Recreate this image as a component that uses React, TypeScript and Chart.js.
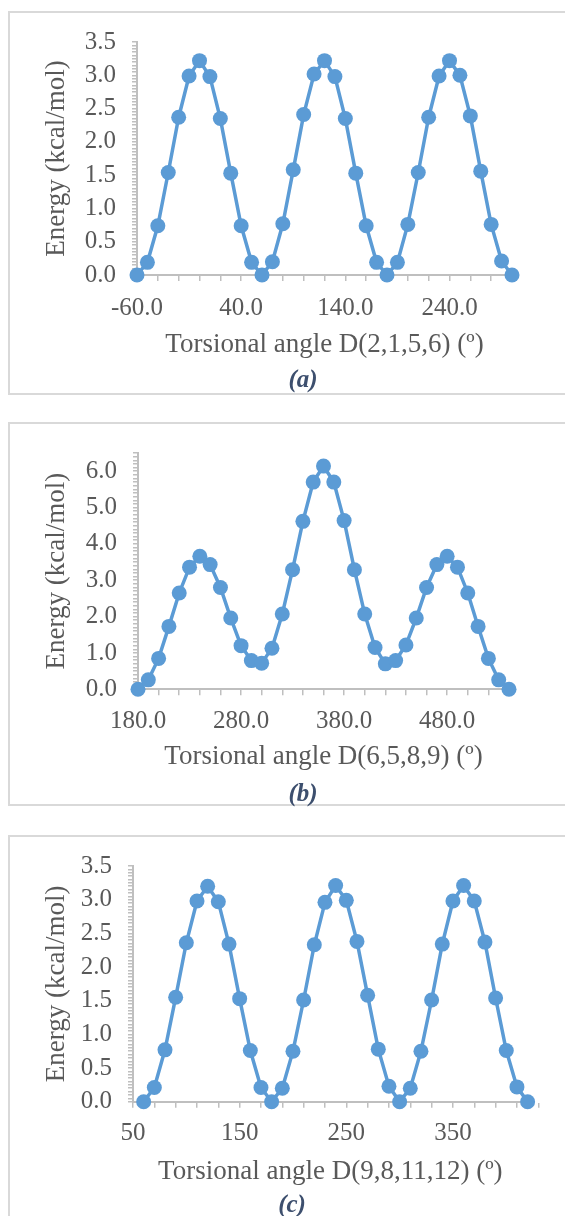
import React, { useEffect, useRef } from "react";
import { Chart, registerables } from "chart.js";

Chart.register(...registerables);

// ---------- data ----------
const anglesA = [-60, -50, -40, -30, -20, -10, 0, 10, 20, 30, 40, 50, 60, 70, 80, 90, 100, 110, 120, 130, 140, 150, 160, 170, 180, 190, 200, 210, 220, 230, 240, 250, 260, 270, 280, 290, 300];
const energyA = [0, 0.19, 0.74, 1.54, 2.37, 2.99, 3.22, 2.98, 2.35, 1.53, 0.74, 0.19, 0, 0.2, 0.77, 1.58, 2.41, 3.02, 3.22, 2.98, 2.35, 1.53, 0.74, 0.19, 0, 0.19, 0.76, 1.54, 2.37, 2.99, 3.22, 3.0, 2.39, 1.56, 0.76, 0.21, 0];

const anglesB = [180, 190, 200, 210, 220, 230, 240, 250, 260, 270, 280, 290, 300, 310, 320, 330, 340, 350, 360, 370, 380, 390, 400, 410, 420, 430, 440, 450, 460, 470, 480, 490, 500, 510, 520, 530, 540];
const energyB = [0, 0.26, 0.85, 1.73, 2.65, 3.36, 3.66, 3.43, 2.8, 1.96, 1.2, 0.79, 0.72, 1.13, 2.07, 3.29, 4.62, 5.7, 6.14, 5.7, 4.64, 3.29, 2.07, 1.15, 0.7, 0.79, 1.22, 1.96, 2.8, 3.43, 3.66, 3.36, 2.65, 1.73, 0.85, 0.26, 0];

const anglesC = [60, 70, 80, 90, 100, 110, 120, 130, 140, 150, 160, 170, 180, 190, 200, 210, 220, 230, 240, 250, 260, 270, 280, 290, 300, 310, 320, 330, 340, 350, 360, 370, 380, 390, 400, 410, 420];
const energyC = [0, 0.21, 0.77, 1.55, 2.36, 2.98, 3.2, 2.97, 2.34, 1.53, 0.76, 0.21, 0, 0.2, 0.75, 1.51, 2.33, 2.96, 3.21, 2.99, 2.38, 1.58, 0.78, 0.23, 0, 0.2, 0.75, 1.51, 2.34, 2.98, 3.21, 2.98, 2.37, 1.54, 0.76, 0.22, 0];

// tick labels
const xLabelsA = [-60, 40, 140, 240];
const xLabelsB = [180, 280, 380, 480];
const xLabelsC = [50, 150, 250, 350];
const yLabelsA = [0, 0.5, 1, 1.5, 2, 2.5, 3, 3.5];
const yLabelsB = [0, 1, 2, 3, 4, 5, 6];
const yLabelsC = [0, 0.5, 1, 1.5, 2, 2.5, 3, 3.5];

const xTitleA = "Torsional angle D(2,1,5,6) (º)";
const xTitleB = "Torsional angle D(6,5,8,9) (º)";
const xTitleC = "Torsional angle D(9,8,11,12) (º)";
const yTitle = "Energy (kcal/mol)";

// ---------- style ----------
const W = 565;
const FONT = "'Liberation Serif', 'Times New Roman', serif";
const LINE = "#5B9BD5";
const AXIS = "#BFBFBF";
const TXT = "#595959";
const CAPTION = "#3D4F6E";
const TICK_SIZE = 25;
const TITLE_SIZE = 27;

function stepTicks(min: number, max: number, step: number) {
  const out: number[] = [];
  const n = Math.round((max - min) / step);
  for (let i = 0; i <= n; i++) out.push(Math.round((min + i * step) * 10000) / 10000);
  return out;
}
function inList(v: number, list: number[]) {
  return list.some((l) => Math.abs(l - v) < 1e-6);
}

type Cfg = {
  top: number;
  height: number;
  boxHeight: number;
  angles: number[];
  energy: number[];
  xMin: number;
  xMax: number;
  xLabels: number[];
  xMinorStep: number;
  xDecimals: number;
  yMin: number;
  yMax: number;
  yLabels: number[];
  yMinorStep: number;
  xTitle: string;
  caption: string;
  area: { left: number; right: number; top: number; bottom: number };
  xLabelPad: number;
  xTitlePad: number;
  capX: number;
  capY: number;
};

function Panel({ cfg }: { cfg: Cfg }) {
  const ref = useRef<HTMLCanvasElement | null>(null);
  useEffect(() => {
    if (!ref.current) return;
    const xTicks = stepTicks(cfg.xMin, cfg.xMax, cfg.xMinorStep);
    const yTicks = stepTicks(cfg.yMin, cfg.yMax, cfg.yMinorStep);
    const chart = new Chart(ref.current, {
      type: "line",
      data: {
        datasets: [
          {
            data: cfg.angles.map((a, i) => ({ x: a, y: cfg.energy[i] })),
            borderColor: LINE,
            backgroundColor: LINE,
            borderWidth: 3.5,
            pointRadius: 7.5,
            pointBackgroundColor: LINE,
            pointBorderColor: LINE,
            pointBorderWidth: 0,
            tension: 0,
            clip: false,
          } as any,
        ],
      },
      options: {
        responsive: false,
        animation: false,
        devicePixelRatio: 1,
        layout: {
          padding: { left: 0, top: cfg.area.top, right: W - cfg.area.right, bottom: 0 },
        },
        plugins: { legend: { display: false }, tooltip: { enabled: false } },
        scales: {
          x: {
            type: "linear",
            min: cfg.xMin,
            max: cfg.xMax,
            afterBuildTicks: (s: any) => {
              s.ticks = xTicks.map((v) => ({ value: v }));
            },
            afterFit: (s: any) => {
              s.height = cfg.height - cfg.area.bottom;
            },
            grid: { drawOnChartArea: false, drawTicks: true, tickLength: 6, color: AXIS, lineWidth: 1.5 },
            border: { display: true, color: AXIS, width: 2 },
            ticks: {
              autoSkip: false,
              maxRotation: 0,
              padding: cfg.xLabelPad,
              color: TXT,
              font: { family: FONT, size: TICK_SIZE },
              callback: (v: any) => (inList(Number(v), cfg.xLabels) ? Number(v).toFixed(cfg.xDecimals) : ""),
            },
            title: {
              display: true,
              text: cfg.xTitle,
              color: TXT,
              font: { family: FONT, size: TITLE_SIZE },
              padding: { top: 0, bottom: cfg.xTitlePad },
            },
          },
          y: {
            type: "linear",
            min: cfg.yMin,
            max: cfg.yMax,
            afterBuildTicks: (s: any) => {
              s.ticks = yTicks.map((v) => ({ value: v }));
            },
            afterFit: (s: any) => {
              s.width = cfg.area.left;
            },
            grid: { drawOnChartArea: false, drawTicks: true, tickLength: 5, color: AXIS, lineWidth: 1.5 },
            border: { display: true, color: AXIS, width: 2 },
            ticks: {
              autoSkip: false,
              padding: 16,
              color: TXT,
              font: { family: FONT, size: TICK_SIZE },
              callback: (v: any) => (inList(Number(v), cfg.yLabels) ? Number(v).toFixed(1) : ""),
            },
            title: {
              display: true,
              text: yTitle,
              color: TXT,
              font: { family: FONT, size: TITLE_SIZE },
              padding: { top: 41, bottom: 0 },
            },
          },
        },
      } as any,
    });
    return () => chart.destroy();
  }, [cfg]);

  return (
    <>
      <div
        style={{
          position: "absolute",
          left: 8,
          top: cfg.top,
          width: 620,
          height: cfg.boxHeight,
          border: "2px solid #D9D9D9",
          boxSizing: "border-box",
        }}
      />
      <canvas
        ref={ref}
        width={W}
        height={cfg.height}
        style={{ position: "absolute", left: 0, top: cfg.top, width: W, height: cfg.height }}
      />
      <div
        style={{
          position: "absolute",
          left: cfg.capX,
          top: cfg.capY,
          transform: "translate(-50%, -50%)",
          fontFamily: FONT,
          fontSize: 25,
          fontWeight: "bold",
          fontStyle: "italic",
          color: CAPTION,
          lineHeight: 1,
          whiteSpace: "nowrap",
        }}
      >
        {cfg.caption}
      </div>
    </>
  );
}

const cfgA: Cfg = {
  top: 11,
  height: 384,
  boxHeight: 384,
  angles: anglesA,
  energy: energyA,
  xMin: -60,
  xMax: 300,
  xLabels: xLabelsA,
  xMinorStep: 20,
  xDecimals: 1,
  yMin: 0,
  yMax: 3.5,
  yLabels: yLabelsA,
  yMinorStep: 0.05,
  xTitle: xTitleA,
  caption: "(a)",
  area: { left: 137, right: 512, top: 29.7, bottom: 264 },
  xLabelPad: 12,
  xTitlePad: 33.8,
  capX: 303,
  capY: 378,
};

const cfgB: Cfg = {
  top: 422,
  height: 384,
  boxHeight: 384,
  angles: anglesB,
  energy: energyB,
  xMin: 180,
  xMax: 540,
  xLabels: xLabelsB,
  xMinorStep: 20,
  xDecimals: 1,
  yMin: 0,
  yMax: 6.5,
  yLabels: yLabelsB,
  yMinorStep: 0.1,
  xTitle: xTitleB,
  caption: "(b)",
  area: { left: 138, right: 509, top: 31, bottom: 267.3 },
  xLabelPad: 10.7,
  xTitlePad: 33.1,
  capX: 303,
  capY: 791.7,
};

const cfgC: Cfg = {
  top: 835,
  height: 381,
  boxHeight: 420,
  angles: anglesC,
  energy: energyC,
  xMin: 50,
  xMax: 420,
  xLabels: xLabelsC,
  xMinorStep: 20,
  xDecimals: 0,
  yMin: 0,
  yMax: 3.5,
  yLabels: yLabelsC,
  yMinorStep: 0.05,
  xTitle: xTitleC,
  caption: "(c)",
  area: { left: 133, right: 527.6, top: 30, bottom: 266.7 },
  xLabelPad: 10.3,
  xTitlePad: 28.1,
  capX: 292,
  capY: 1203,
};

export default function App() {
  return (
    <div
      style={{
        position: "absolute",
        left: 0,
        top: 0,
        width: W,
        height: 1216,
        overflow: "hidden",
        background: "#ffffff",
      }}
    >
      <Panel cfg={cfgA} />
      <Panel cfg={cfgB} />
      <Panel cfg={cfgC} />
    </div>
  );
}
